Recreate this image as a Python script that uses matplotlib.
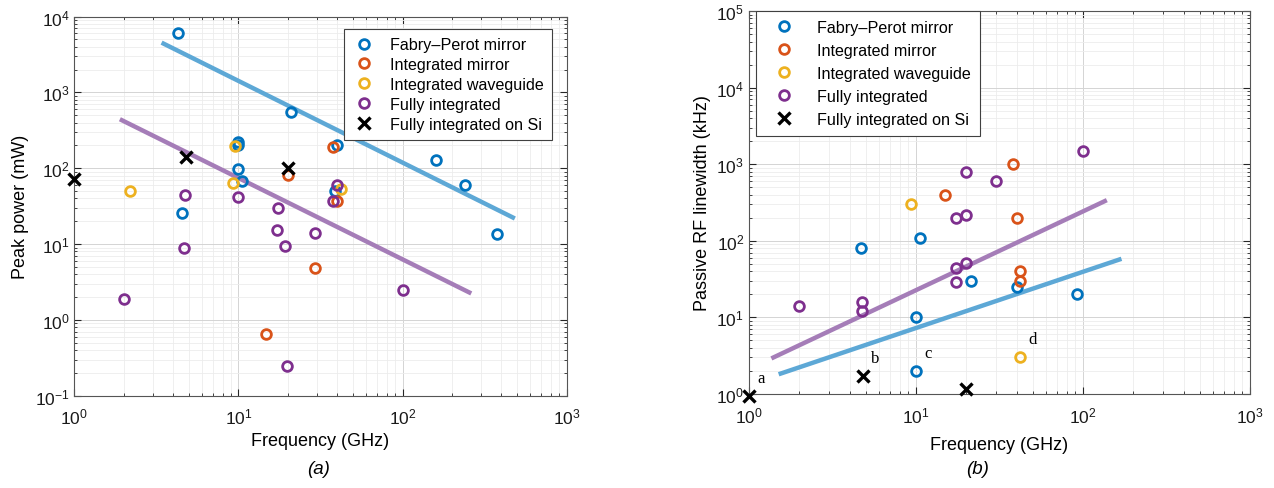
#!/usr/bin/env python3
"""Peak power and passive RF linewidth vs. repetition frequency, two log-log panels."""
import matplotlib
matplotlib.use("Agg")
import matplotlib.pyplot as plt

plt.rcParams["font.family"] = ["Liberation Sans", "DejaVu Sans"]
plt.rcParams["mathtext.fontset"] = "custom"
plt.rcParams["mathtext.rm"] = "Liberation Sans"
plt.rcParams["axes.unicode_minus"] = False

# ---------------------------------------------------------------------------
# Data
# ---------------------------------------------------------------------------

SERIES = ["Fabry\u2013Perot mirror", "Integrated mirror", "Integrated waveguide",
          "Fully integrated", "Fully integrated on Si"]

# (a) peak power (mW) vs frequency (GHz)
a_fp_f = [4.3, 21, 10, 10, 10, 10.5, 4.55, 40, 39, 160, 240, 375]
a_fp_p = [6000, 560, 225, 200, 97, 68, 25.5, 200, 50, 130, 60, 13.5]
a_im_f = [37.5, 20, 40, 29.4, 14.7]
a_im_p = [190, 82, 37, 4.8, 0.66]
a_iw_f = [2.2, 9.6, 9.3, 42]
a_iw_p = [50, 195, 63, 53]
a_fi_f = [4.7, 10, 17.4, 17.1, 29.4, 19.3, 4.65, 2.0, 37.5, 40, 19.7, 100]
a_fi_p = [44, 42, 30, 15.2, 13.9, 9.5, 8.9, 1.9, 37, 60, 0.247, 2.5]
a_si_f = [1.0, 4.8, 20]
a_si_p = [72, 140, 100]
a_fit_fp_f = [3.5, 470]
a_fit_fp_p = [4400, 22.4]
a_fit_fi_f = [1.95, 255]
a_fit_fi_p = [430, 2.3]

# (b) passive RF linewidth (kHz) vs frequency (GHz)
b_fp_f = [4.7, 10.5, 10, 10, 21.3, 40, 92]
b_fp_w = [80, 110, 10, 2.0, 30, 25, 20]
b_im_f = [15, 38, 40, 42, 42]
b_im_w = [400, 1000, 200, 40, 30]
b_iw_f = [9.3, 42]
b_iw_w = [300, 3.0]
b_fi_f = [2.0, 4.75, 4.75, 17.4, 20, 20, 30, 17.4, 20, 17.4, 100]
b_fi_w = [14, 16, 12, 200, 220, 800, 600, 44, 52, 29, 1500]
b_si_f = [1.0, 4.8, 20]
b_si_w = [0.95, 1.7, 1.15]
b_fit_fp_f = [1.55, 165]
b_fit_fp_w = [1.85, 57]
b_fit_fi_f = [1.4, 135]
b_fit_fi_w = [3.0, 330]

# point labels in panel (b)
b_tags = ["a", "b", "c", "d"]
b_tag_f = [1.0, 4.8, 10, 42]
b_tag_w = [0.95, 1.7, 2.0, 3.0]

# ---------------------------------------------------------------------------
# Styling
# ---------------------------------------------------------------------------

COLORS = ["#0072BD", "#D95319", "#EDB120", "#7E2F8E", "black"]
FIT_BLUE = "#5DA8D6"
FIT_PURPLE = "#A57DB8"
AXIS_COLOR = "#262626"


def style_axes(ax, xlim, ylim):
    ax.set_xscale("log")
    ax.set_yscale("log")
    ax.set_xlim(*xlim)
    ax.set_ylim(*ylim)
    ax.grid(True, which="major", color="#d4d4d4", lw=0.7)
    ax.grid(True, which="minor", color="#ececec", lw=0.6)
    ax.set_axisbelow(True)
    ax.tick_params(which="both", direction="in", top=True, right=True,
                   colors=AXIS_COLOR, labelcolor="#1a1a1a", labelsize=12.5)
    ax.tick_params(axis="x", which="both", pad=8)
    ax.tick_params(which="major", length=5)
    ax.tick_params(which="minor", length=2.5)
    for sp in ax.spines.values():
        sp.set_color("#555555")
        sp.set_linewidth(0.8)


def scatter_series(ax, xs, ys):
    for i, (x, y) in enumerate(zip(xs, ys)):
        if i < 4:
            ax.plot(x, y, "o", ms=7, mfc="none", mec=COLORS[i], mew=2.0,
                    ls="none", label=SERIES[i], zorder=3, clip_on=False)
        else:
            ax.plot(x, y, "x", ms=9, mec=COLORS[i], mew=2.4,
                    ls="none", label=SERIES[i], zorder=4, clip_on=False)


def main():
    fig = plt.figure(figsize=(12.74, 4.89), dpi=100)

    # ---- (a) peak power
    ax1 = fig.add_axes([0.0583, 0.1888, 0.3865, 0.7752])
    style_axes(ax1, (1, 1e3), (1e-1, 1e4))
    ax1.plot(a_fit_fp_f, a_fit_fp_p, color=FIT_BLUE, lw=3.2, zorder=2)
    ax1.plot(a_fit_fi_f, a_fit_fi_p, color=FIT_PURPLE, lw=3.2, zorder=2)
    scatter_series(ax1,
                   [a_fp_f, a_im_f, a_iw_f, a_fi_f, a_si_f],
                   [a_fp_p, a_im_p, a_iw_p, a_fi_p, a_si_p])
    ax1.set_xlabel("Frequency (GHz)", fontsize=13, labelpad=4)
    ax1.set_ylabel("Peak power (mW)", fontsize=13, labelpad=4)
    leg1 = ax1.legend(loc="upper right", bbox_to_anchor=(0.97, 0.967),
                      borderaxespad=0, fontsize=11.6, fancybox=False,
                      framealpha=1, edgecolor="#404040", handlelength=1.5,
                      handletextpad=0.85, labelspacing=0.3, borderpad=0.5)
    leg1.get_frame().set_linewidth(0.8)

    # ---- (b) passive RF linewidth
    ax2 = fig.add_axes([0.5879, 0.1922, 0.3933, 0.7832])
    style_axes(ax2, (1, 1e3), (1, 1e5))
    ax2.plot(b_fit_fp_f, b_fit_fp_w, color=FIT_BLUE, lw=3.2, zorder=2)
    ax2.plot(b_fit_fi_f, b_fit_fi_w, color=FIT_PURPLE, lw=3.2, zorder=2)
    scatter_series(ax2,
                   [b_fp_f, b_im_f, b_iw_f, b_fi_f, b_si_f],
                   [b_fp_w, b_im_w, b_iw_w, b_fi_w, b_si_w])
    for tag, f, w in zip(b_tags, b_tag_f, b_tag_w):
        ax2.annotate(tag, (f, w), xytext=(9, 13), textcoords="offset points",
                     ha="center", va="center", fontsize=12,
                     annotation_clip=False,
                     family=["Liberation Serif", "DejaVu Serif"])
    ax2.set_xlabel("Frequency (GHz)", fontsize=13, labelpad=8)
    ax2.set_ylabel("Passive RF linewidth (kHz)", fontsize=13, labelpad=4)
    leg2 = ax2.legend(loc="upper left", bbox_to_anchor=(0.014, 1.0),
                      borderaxespad=0, fontsize=11.6, fancybox=False,
                      framealpha=1, edgecolor="#404040", handlelength=2.4,
                      handletextpad=0.85, labelspacing=0.5, borderpad=0.55)
    leg2.get_frame().set_linewidth(0.8)

    # panel captions
    fig.text(0.2497, 1 - 470 / 489, "(a)", ha="center", va="center",
             fontsize=13.5, style="italic")
    fig.text(0.7677, 1 - 470 / 489, "(b)", ha="center", va="center",
             fontsize=13.5, style="italic")

    fig.savefig("out.png", dpi=100, facecolor="white")


if __name__ == "__main__":
    main()
